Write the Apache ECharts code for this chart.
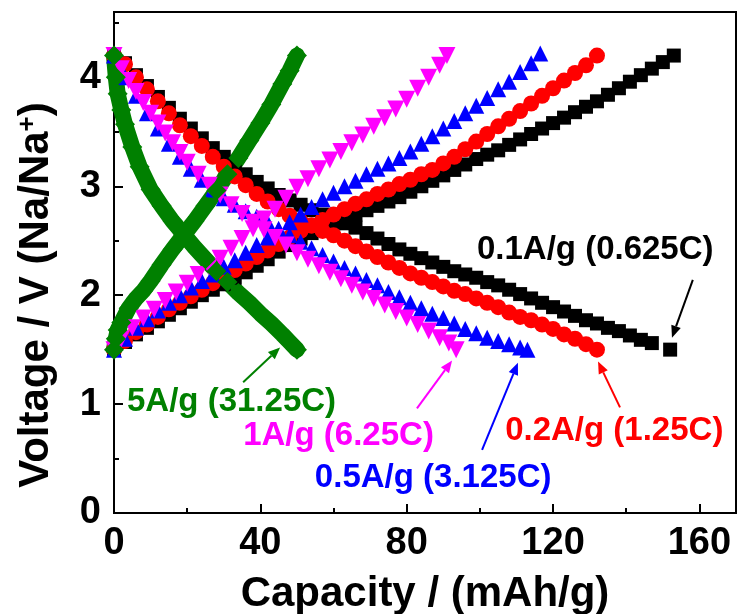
<!DOCTYPE html>
<html><head><meta charset="utf-8">
<script src="https://cdn.jsdelivr.net/npm/echarts@6/dist/echarts.min.js"></script>
<style>html,body{margin:0;padding:0;background:#fff}#c{width:738px;height:614px}</style>
</head><body><div id="c"></div>
<script>
// ---------- data (capacity mAh/g, voltage V) ----------
const xTickLabels = [0, 40, 80, 120, 160];
const yTickLabels = [0, 1, 2, 3, 4];

const dis01 = [[0,4.2],[3,4.13],[6,4.02],[9,3.92],[12,3.82],[15,3.72],[18,3.62],[21,3.53],[24,3.44],[27,3.35],[30,3.27],[33,3.19],[36,3.11],[39,3.04],[42,2.98],[45,2.92],[48,2.87],[51,2.83],[54,2.78],[57,2.74],[60,2.70],[63,2.66],[66,2.62],[69,2.57],[72,2.52],[75,2.47],[78,2.42],[81,2.38],[84,2.34],[87,2.30],[90,2.26],[93,2.22],[96,2.19],[99,2.16],[102,2.12],[105,2.09],[108,2.05],[111,2.01],[114,1.97],[117,1.93],[120,1.89],[123,1.85],[126,1.81],[129,1.77],[132,1.74],[135,1.70],[138,1.67],[141,1.63],[144,1.59],[147,1.56],[152,1.5]];
const chg01 = [[0,1.5],[3,1.57],[6,1.64],[9,1.7],[12,1.76],[15,1.82],[18,1.88],[21,1.94],[24,2.0],[27,2.05],[30,2.1],[33,2.16],[36,2.21],[39,2.27],[42,2.33],[45,2.4],[48,2.46],[51,2.52],[54,2.57],[57,2.62],[60,2.66],[63,2.7],[66,2.74],[69,2.78],[72,2.82],[75,2.86],[78,2.9],[81,2.95],[84,3.0],[87,3.05],[90,3.1],[93,3.15],[96,3.2],[99,3.25],[102,3.29],[105,3.33],[108,3.38],[111,3.43],[114,3.48],[117,3.53],[120,3.58],[123,3.63],[126,3.68],[129,3.73],[132,3.78],[135,3.84],[138,3.9],[141,3.96],[144,4.02],[147,4.08],[150,4.14],[153,4.2]];

const dis02 = [[0,4.2],[3,4.12],[6,4.0],[9,3.89],[12,3.78],[15,3.67],[18,3.56],[21,3.46],[24,3.37],[27,3.27],[30,3.18],[33,3.09],[36,3.01],[39,2.93],[42,2.86],[45,2.79],[48,2.73],[51,2.68],[54,2.64],[57,2.59],[60,2.55],[63,2.50],[66,2.45],[69,2.40],[72,2.35],[75,2.30],[78,2.25],[81,2.20],[84,2.16],[87,2.12],[90,2.08],[93,2.04],[96,2.01],[99,1.97],[102,1.93],[105,1.89],[108,1.84],[111,1.80],[114,1.77],[117,1.73],[120,1.69],[123,1.64],[126,1.60],[129,1.55],[132,1.5]];
const chg02 = [[0,1.5],[3,1.58],[6,1.66],[9,1.73],[12,1.8],[15,1.87],[18,1.93],[21,1.99],[24,2.05],[27,2.11],[30,2.17],[33,2.23],[36,2.29],[39,2.35],[42,2.41],[45,2.47],[48,2.53],[51,2.59],[54,2.64],[57,2.69],[60,2.74],[63,2.79],[66,2.84],[69,2.88],[72,2.93],[75,2.97],[78,3.02],[81,3.06],[84,3.11],[87,3.15],[90,3.21],[93,3.27],[96,3.34],[99,3.41],[102,3.48],[105,3.55],[108,3.62],[111,3.69],[114,3.76],[117,3.83],[120,3.9],[123,3.97],[126,4.04],[129,4.11],[132,4.2]];

const dis05 = [[0,4.2],[3,4.0],[6,3.83],[9,3.67],[12,3.53],[15,3.39],[18,3.27],[21,3.16],[24,3.06],[27,2.97],[30,2.89],[33,2.83],[36,2.77],[39,2.72],[42,2.67],[45,2.61],[48,2.55],[51,2.49],[54,2.43],[57,2.37],[60,2.31],[63,2.25],[66,2.2],[69,2.14],[72,2.09],[75,2.03],[78,1.98],[81,1.93],[84,1.88],[87,1.83],[90,1.79],[93,1.74],[96,1.69],[99,1.65],[102,1.61],[105,1.58],[108,1.55],[111,1.52],[113,1.5]];
const chg05 = [[0,1.5],[3,1.6],[6,1.7],[9,1.78],[12,1.86],[15,1.93],[18,2.0],[21,2.07],[24,2.13],[27,2.19],[30,2.26],[33,2.32],[36,2.39],[39,2.46],[42,2.53],[45,2.6],[48,2.67],[51,2.74],[54,2.81],[57,2.88],[60,2.94],[63,3.0],[66,3.05],[69,3.11],[72,3.16],[75,3.21],[78,3.26],[81,3.32],[84,3.39],[87,3.46],[90,3.53],[93,3.6],[96,3.67],[99,3.74],[102,3.81],[105,3.89],[108,3.96],[111,4.05],[114,4.13],[116.5,4.22]];

const dis1 = [[0,4.2],[2,4.08],[4,3.97],[6,3.87],[8,3.77],[10,3.67],[12,3.58],[14,3.49],[16,3.40],[18,3.31],[20,3.22],[23,3.11],[26,3.01],[29,2.92],[32,2.83],[35,2.75],[38,2.67],[41,2.60],[44,2.53],[47,2.46],[50,2.39],[53,2.33],[56,2.27],[59,2.21],[62,2.15],[65,2.09],[68,2.03],[71,1.97],[74,1.91],[77,1.85],[80,1.79],[83,1.73],[86,1.67],[89,1.61],[91.5,1.56],[93.5,1.5]];
const chg1 = [[0,1.5],[2,1.6],[5,1.7],[8,1.79],[11,1.87],[14,1.95],[17,2.03],[20,2.11],[23,2.19],[26,2.26],[29,2.34],[32,2.43],[35,2.52],[38,2.61],[41,2.70],[44,2.79],[47,2.89],[50,2.99],[53,3.07],[56,3.16],[59,3.24],[62,3.32],[65,3.40],[68,3.47],[71,3.55],[74,3.63],[77,3.71],[80,3.80],[83,3.90],[86,4.0],[89,4.11],[91,4.2]];

const dis5 = [[0,4.2],[0.5,4.0],[1,3.85],[2,3.7],[3,3.57],[5,3.36],[7,3.18],[10,2.97],[13,2.82],[16,2.68],[19,2.56],[22,2.44],[25,2.33],[28,2.22],[31,2.12],[34,2.02],[37,1.93],[40,1.83],[43,1.74],[46,1.64],[48,1.57],[50,1.5]];
const chg5 = [[0,1.5],[0.5,1.6],[1,1.68],[2,1.75],[4,1.88],[6,1.97],[8,2.04],[10,2.13],[13,2.28],[16,2.42],[19,2.55],[22,2.68],[25,2.82],[28,2.96],[31,3.11],[34,3.26],[37,3.42],[40,3.58],[43,3.75],[46,3.94],[48,4.06],[50,4.2]];

// ---------- styling ----------
const FONT = '"Liberation Sans", Arial, Helvetica, sans-serif';
const C_BLACK = '#000000', C_RED = '#FF0000', C_BLUE = '#0000FF', C_MAG = '#FF00FF', C_GREEN = '#008000';

function mk(name, data, color, symbol, size, rotate, lineW) {
  return {
    name: name, type: 'line', data: data, xAxisIndex: 0, yAxisIndex: 0,
    symbol: symbol, symbolSize: size, symbolRotate: rotate || 0, showAllSymbol: true,
    itemStyle: { color: color },
    lineStyle: lineW ? { color: color, width: lineW, join: 'round', cap: 'round' } : { width: 0, opacity: 0 },
    silent: true, clip: true
  };
}

const series = [
  mk('dis01', dis01, C_BLACK, 'rect', 14),
  mk('chg01', chg01, C_BLACK, 'rect', 14),
  mk('dis02', dis02, C_RED, 'circle', 16),
  mk('chg02', chg02, C_RED, 'circle', 16),
  mk('dis05', dis05, C_BLUE, 'triangle', 16),
  mk('chg05', chg05, C_BLUE, 'triangle', 16),
  mk('dis1', dis1, C_MAG, 'triangle', 17, 180),
  mk('chg1', chg1, C_MAG, 'triangle', 17, 180),
  mk('dis5', dis5, C_GREEN, 'diamond', 20, 0, 16),
  mk('chg5', chg5, C_GREEN, 'diamond', 20, 0, 16)
];

const tickLabelStyle = { fontSize: 38, fontWeight: 'bold', color: '#000', fontFamily: FONT };
const nameStyle = { fontSize: 42, fontWeight: 'bold', color: '#000', fontFamily: FONT };

const option = {
  animation: false,
  backgroundColor: '#fff',
  grid: { left: 114, right: 2, top: 12, bottom: 101, show: true, borderColor: '#000', borderWidth: 2, backgroundColor: 'transparent', containLabel: false, outerBoundsMode: 'none' },
  xAxis: [
    { type: 'value', min: 0, max: 170, interval: 40, position: 'bottom', offset: 0,
      axisLine: { show: true, lineStyle: { color: '#000', width: 2 } },
      axisTick: { show: true, inside: true, length: 9, lineStyle: { color: '#000', width: 2 } },
      axisLabel: Object.assign({ margin: 12, formatter: v => xTickLabels.includes(v) ? String(v) : '' }, tickLabelStyle),
      splitLine: { show: false },
      name: 'Capacity / (mAh/g)', nameLocation: 'middle', nameGap: 60, nameTextStyle: nameStyle },
    { type: 'value', min: 0, max: 170, interval: 20, position: 'bottom', offset: 0,
      axisLine: { show: false }, axisTick: { show: true, inside: true, length: 5, lineStyle: { color: '#000', width: 2 } },
      axisLabel: { show: false }, splitLine: { show: false } }
  ],
  yAxis: [
    { type: 'value', min: 0, max: 4.6, interval: 1, position: 'left', offset: 0,
      axisLine: { show: true, lineStyle: { color: '#000', width: 2 } },
      axisTick: { show: true, inside: true, length: 9, lineStyle: { color: '#000', width: 2 } },
      axisLabel: Object.assign({ margin: 13, formatter: v => yTickLabels.includes(v) ? String(v) : '' }, tickLabelStyle),
      splitLine: { show: false } },
    { type: 'value', min: 0, max: 4.6, interval: 0.5, position: 'left', offset: 0,
      axisLine: { show: false }, axisTick: { show: true, inside: true, length: 5, lineStyle: { color: '#000', width: 2 } },
      axisLabel: { show: false }, splitLine: { show: false } }
  ],
  series: series
};

const chart = echarts.init(document.getElementById('c'), null, { renderer: 'canvas' });
chart.setOption(option);

// ---------- annotations (data coordinates) ----------
const annotations = [
  { text: '0.1A/g (0.625C)', color: C_BLACK, at: [99.2, 2.415], tail: [158.2, 2.14], head: [152.5, 1.61] },
  { text: '0.2A/g (1.25C)', color: C_RED, at: [106.9, 0.753], tail: [138.3, 0.97], head: [132.3, 1.39] },
  { text: '0.5A/g (3.125C)', color: C_BLUE, at: [54.9, 0.321], tail: [100.6, 0.58], head: [110.4, 1.38] },
  { text: '1A/g (6.25C)', color: C_MAG, at: [35.3, 0.707], tail: [82.8, 0.96], head: [92.4, 1.40] },
  { text: '5A/g (31.25C)', color: C_GREEN, at: [3.55, 1.019], tail: [35.3, 1.20], head: [45.4, 1.52] }
];

function px(p) { return chart.convertToPixel({ gridIndex: 0 }, p); }
const graphics = [];
// y-axis title (rotated, with superscript)
graphics.push({ type: 'text', x: 36, y: 295, rotation: Math.PI / 2, z: 100,
  style: { text: '{n|Voltage / V (Na/Na}{s|+}{n|)}', align: 'center', verticalAlign: 'middle',
    rich: { n: nameStyle, s: { fontSize: 26, fontWeight: 'bold', fill: '#000', fontFamily: FONT, verticalAlign: 'top', lineHeight: 42 } },
    fill: '#000', font: 'bold 42px ' + FONT } });
annotations.forEach(a => {
  const p = px(a.at);
  graphics.push({ type: 'text', x: p[0], y: p[1], z: 100,
    style: { text: a.text, fill: a.color, font: 'bold 33px ' + FONT, textAlign: 'left', textVerticalAlign: 'middle' } });
  const t = px(a.tail), h = px(a.head);
  const dx = h[0] - t[0], dy = h[1] - t[1], L = Math.hypot(dx, dy);
  const ux = dx / L, uy = dy / L, hl = 12, hw = 5;
  const b = [h[0] - ux * hl, h[1] - uy * hl];
  graphics.push({ type: 'line', z: 100, shape: { x1: t[0], y1: t[1], x2: b[0], y2: b[1] }, style: { stroke: a.color, lineWidth: 2 } });
  graphics.push({ type: 'polygon', z: 100, shape: { points: [h, [b[0] - uy * hw, b[1] + ux * hw], [b[0] + uy * hw, b[1] - ux * hw]] }, style: { fill: a.color } });
});
chart.setOption({ graphic: graphics });
</script></body></html>
